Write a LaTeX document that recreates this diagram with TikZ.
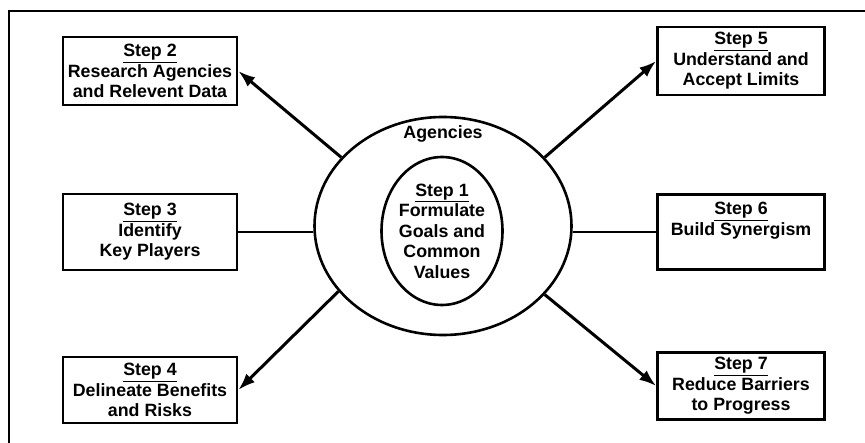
\documentclass[tikz,border=0pt]{standalone}
\usepackage{fontspec}
\setmainfont{Liberation Sans}
\usetikzlibrary{shapes.geometric,arrows.meta}
\begin{document}
\begin{tikzpicture}[x=1pt,y=-1pt,
  txt/.style={font=\fontsize{17.8}{20.5}\selectfont\bfseries, align=center, inner sep=0pt},
  stepbox/.style={txt, draw, line width=2.6pt, rectangle},
  ring/.style={draw, ellipse, line width=2.6pt, inner sep=0pt},
  arr/.style={line width=3pt, -{Latex[length=17pt,width=12pt]}},
  link/.style={line width=2.8pt}]
\useasboundingbox (0,0) rectangle (865,443);
\draw[line width=2.6pt] (9,443) -- (9,11) -- (865,11);

\node[ring, minimum width=257pt, minimum height=218pt] (outer) at (443,226) {};
\node[ring, minimum width=121pt, minimum height=148pt] (inner) at (442,231) {};
\node[txt] (agencies) at (443,134) {Agencies};
\node[txt] (s1) at (442,231) {\underline{Step 1}\\Formulate\\Goals and\\Common\\Values};

\node[stepbox, minimum width=174pt, minimum height=68pt] (b2) at (150,71) {\underline{Step 2}\\Research Agencies\\and Relevent Data};
\node[stepbox, minimum width=174pt, minimum height=76pt] (b3) at (150,232) {\underline{Step 3}\\Identify\\Key Players};
\node[stepbox, minimum width=174pt, minimum height=66pt] (b4) at (150,390) {\underline{Step 4}\\Delineate Benefits\\and Risks};
\node[stepbox, minimum width=167pt, minimum height=68pt] (b5) at (741,61) {\underline{Step 5}\\Understand and\\Accept Limits};
\node[stepbox, minimum width=167pt, minimum height=75pt] (b6) at (741,232) {\underline{Step 6}\\Build Synergism\\\strut};
\node[stepbox, minimum width=167pt, minimum height=67pt] (b7) at (741,386) {\underline{Step 7}\\Reduce Barriers\\to Progress};

\draw[arr] (outer.146.6) -- (b2.east);
\draw[arr] (outer.34.3) -- (b5.west);
\draw[arr] (outer.212.5) -- (b4.east);
\draw[arr] (outer.326.7) -- (b7.west);
\draw[link] (b3.east) -- (b3.east -| outer.west);
\draw[link] (b6.west -| outer.east) -- (b6.west);
\end{tikzpicture}
\end{document}
